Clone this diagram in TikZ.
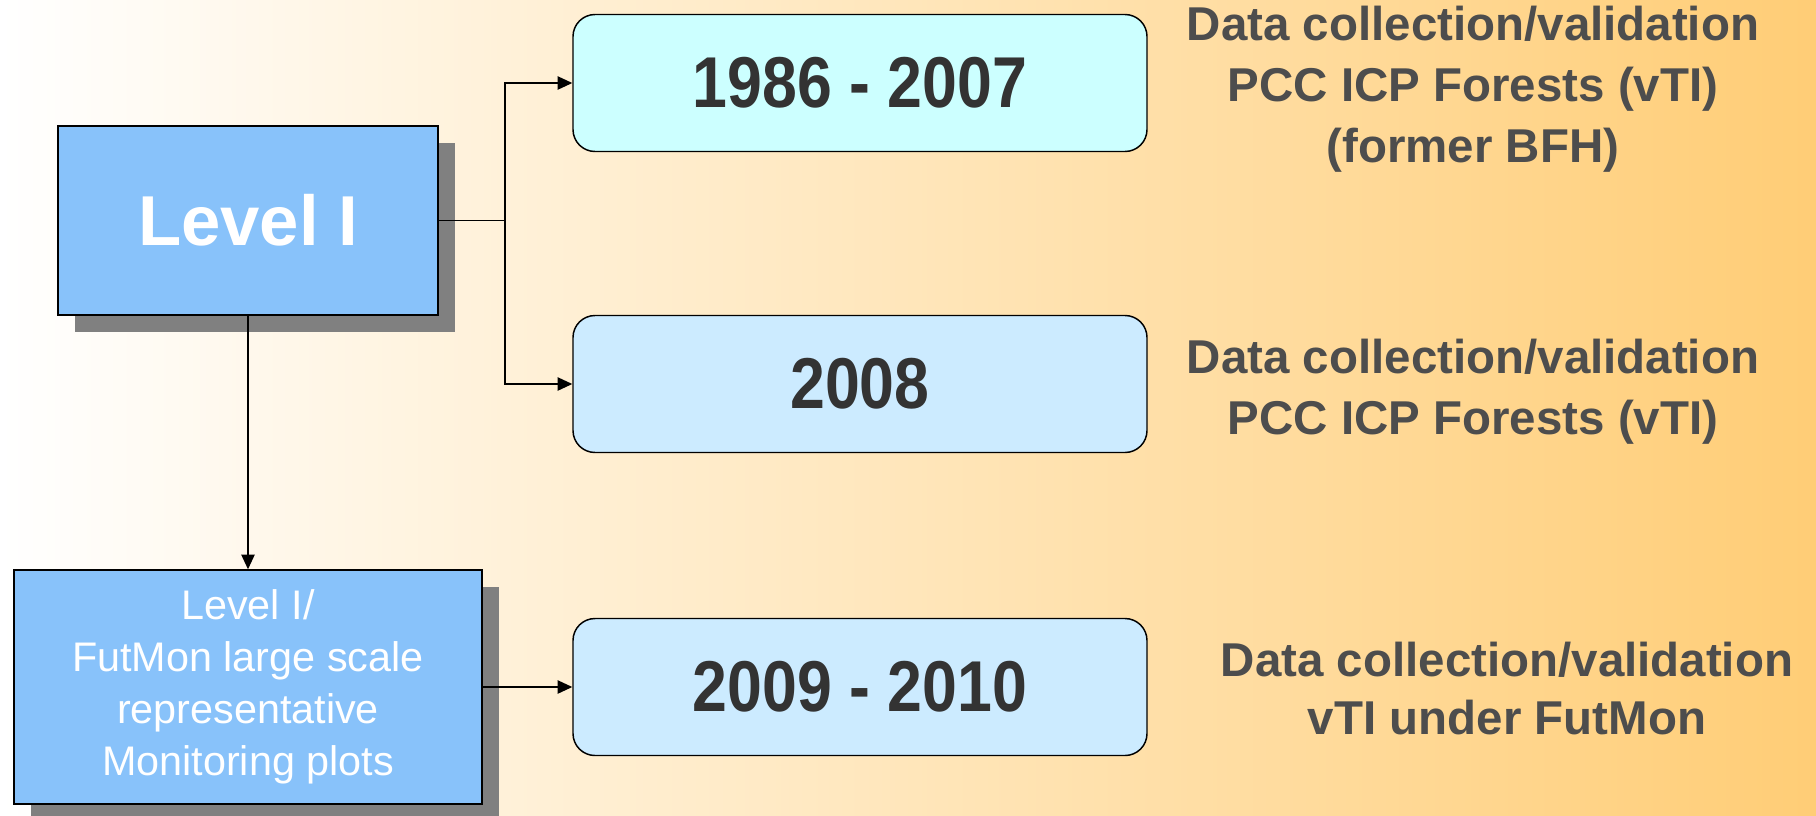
\documentclass[tikz,border=0pt]{standalone}
\usepackage{xcolor}
\usepackage{fontspec}
\usepackage{tikz}
\usetikzlibrary{arrows.meta,shadows}
\setmainfont{Liberation Sans}
\newfontfamily\yearfont[FakeStretch=0.87]{Liberation Sans}

\definecolor{levelblue}{RGB}{136,194,250}
\definecolor{cyanbox}{RGB}{204,255,255}
\definecolor{paleblue}{RGB}{204,235,255}
\definecolor{shadowgray}{RGB}{128,128,128}
\definecolor{notegray}{RGB}{77,77,77}
\definecolor{yeargray}{RGB}{51,51,51}
\definecolor{bgmid}{RGB}{255,235,204}
\definecolor{bgorange}{RGB}{255,205,118}

\begin{document}
\begin{tikzpicture}[x=0.75pt,y=0.75pt,yscale=-1,xscale=1,
  levelbox/.style={draw=black,line width=1.1pt,fill=levelblue,text=white,align=center,inner sep=0pt,
    drop shadow={shadow xshift=12.5pt,shadow yshift=-12.5pt,fill=shadowgray,opacity=1}},
  yearbox/.style={draw=black,line width=1.1pt,rounded corners=16.5pt,minimum width=430.5pt,minimum height=102.75pt,
    text=yeargray,inner sep=0pt,font=\yearfont\bfseries\fontsize{54}{60}\selectfont},
  note/.style={text=notegray,align=center,inner sep=0pt,font=\bfseries\fontsize{35.6}{45.75}\selectfont},
  link/.style={line width=1.1pt,-{Triangle[length=11pt,width=10pt]}}]

%Background
\fill[left color=white,middle color=bgmid,right color=bgorange] (0,0) rectangle (1816,815);

%Shape: Rectangle
\node[levelbox,minimum width=285pt,minimum height=141.75pt,font=\bfseries\fontsize{53}{60}\selectfont] (lvl) at (248,220.5) {Level I};
%Shape: Rectangle
\node[levelbox,minimum width=351pt,minimum height=175.5pt,font=\fontsize{31}{39}\selectfont] (lvlfm) at (248,687) {Level I/\\FutMon large scale\\representative\\Monitoring plots};

%Rounded Rect
\node[yearbox,fill=cyanbox] (yr1) at (860,83) {1986 - 2007};
%Rounded Rect
\node[yearbox,fill=paleblue] (yr2) at (860,384) {2008};
%Rounded Rect
\node[yearbox,fill=paleblue] (yr3) at (860,687) {2009 - 2010};

% Text Node
\node[note] (nt1) at (1473,89) {Data collection/validation\\PCC ICP Forests (vTI)\\(former BFH)};
% Text Node
\node[note] (nt2) at (1473,392) {Data collection/validation\\PCC ICP Forests (vTI)};
% Text Node
\node[note,font=\bfseries\fontsize{35.6}{43.5}\selectfont] (nt3) at (1507,689) {Data collection/validation\\vTI under FutMon};

%Connectors
\coordinate (fork) at (505,220.5);
\draw[line width=1.1pt] (lvl.east) -- (fork);
\draw[link] (fork) |- (yr1.west);
\draw[link] (fork) |- (yr2.west);
\draw[link] (lvl.south) -- (lvlfm.north);
\draw[link] (lvlfm.east) -- (yr3.west);

\end{tikzpicture}
\end{document}
